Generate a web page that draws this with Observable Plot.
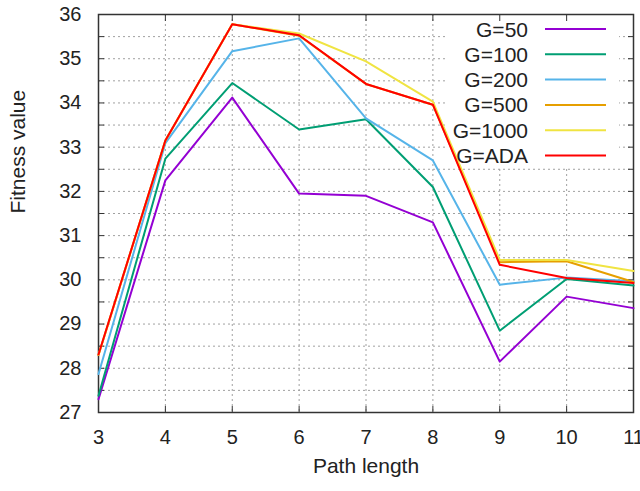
<!DOCTYPE html>
<html><head><meta charset="utf-8">
<script src="https://cdn.jsdelivr.net/npm/d3@7"></script>
<script src="https://cdn.jsdelivr.net/npm/@observablehq/plot@0.6"></script>
<style>body{margin:0;background:#fff}</style>
</head><body><div id="chart"></div>
<script>
const pathLength = [3, 4, 5, 6, 7, 8, 9, 10, 11];
const seriesNames = ["G=50", "G=100", "G=200", "G=500", "G=1000", "G=ADA"];
const seriesColors = ["#9400d3", "#009e73", "#56b4e9", "#e69f00", "#f0e442", "#ff0000"];
const g50   = [27.30, 32.25, 34.12, 31.95, 31.90, 31.30, 28.15, 29.62, 29.36];
const g100  = [27.38, 32.74, 34.45, 33.40, 33.63, 32.10, 28.85, 30.02, 29.87];
const g200  = [27.87, 33.09, 35.17, 35.46, 33.65, 32.70, 29.89, 30.05, 29.97];
const g500  = [28.30, 33.15, 35.78, 35.52, 34.43, 33.96, 30.40, 30.42, 29.95];
const g1000 = [28.30, 33.15, 35.78, 35.57, 34.94, 34.03, 30.45, 30.45, 30.20];
const gADA  = [28.31, 33.15, 35.78, 35.53, 34.43, 33.96, 30.34, 30.04, 29.93];
const xTicks = [3, 4, 5, 6, 7, 8, 9, 10, 11];
const yTicks = [27, 28, 29, 30, 31, 32, 33, 34, 35, 36];
const yMinorTicks = [27, 27.5, 28, 28.5, 29, 29.5, 30, 30.5, 31, 31.5, 32, 32.5, 33, 33.5, 34, 34.5, 35, 35.5, 36];
const xLabel = "Path length";
const yLabel = "Fitness value";

const seriesValues = [g50, g100, g200, g500, g1000, gADA];
const data = seriesNames.flatMap((name, i) =>
  pathLength.map((x, j) => ({series: name, x, y: seriesValues[i][j]})));

const FONT = "'Liberation Sans', Arial, sans-serif";
const gridStyle = {stroke: "#a0a0a0", strokeOpacity: 1, strokeDasharray: "2,3", strokeWidth: 1};

function legendBox(index, scales, values, dims) {
  const g = d3.create("svg:g");
  g.append("rect").attr("x", 448).attr("y", dims.marginTop + 1).attr("width", 171).attr("height", 152).attr("fill", "#fff");
  return g.node();
}
function legendItems(index, scales, values, dims) {
  const g = d3.create("svg:g").attr("font-family", FONT).attr("font-size", 21);
  seriesNames.forEach((name, i) => {
    const y = 29 + i * 25.3;
    g.append("text").attr("x", 528).attr("y", y).attr("dy", "0.36em").attr("text-anchor", "end").attr("fill", "#222").text(name);
    g.append("line").attr("x1", 545).attr("x2", 606).attr("y1", y).attr("y2", y)
      .attr("stroke", seriesColors[i]).attr("stroke-width", 2);
  });
  return g.node();
}

const chart = Plot.plot({
  width: 640, height: 491,
  marginLeft: 98, marginRight: 7, marginTop: 14, marginBottom: 79,
  style: {fontFamily: FONT, background: "#fff", color: "#222"},
  x: {domain: [3, 11]},
  y: {domain: [27, 36]},
  color: {domain: seriesNames, range: seriesColors},
  marks: [
    Plot.gridX(xTicks, gridStyle),
    Plot.gridY(yMinorTicks, gridStyle),
    legendBox,
    Plot.axisX(xTicks, {tickSize: -6, text: null, label: null, stroke: "#333"}),
    Plot.axisX(xTicks, {anchor: "top", tickSize: -6, text: null, label: null, stroke: "#333"}),
    Plot.axisY(yMinorTicks, {tickSize: -6, text: null, label: null, stroke: "#333"}),
    Plot.axisY(yMinorTicks, {anchor: "right", tickSize: -6, text: null, label: null, stroke: "#333"}),
    Plot.axisX(xTicks, {tickSize: 0, tickPadding: 17, fontSize: 20, label: null, fill: "#222"}),
    Plot.axisY(yTicks, {tickSize: 0, tickPadding: 17, fontSize: 20, label: null, fill: "#222"}),
    Plot.frame({stroke: "#333", strokeWidth: 1.5}),
    Plot.line(data, {x: "x", y: "y", z: "series", stroke: "series", strokeWidth: 2}),
    legendItems,
    Plot.text([xLabel], {text: d => d, frameAnchor: "bottom", dy: 60, fontSize: 21, fill: "#222"}),
    Plot.text([yLabel], {text: d => d, frameAnchor: "left", dx: -80, rotate: -90, fontSize: 21, fill: "#222"})
  ]
});
document.getElementById("chart").appendChild(chart);
</script>
</body></html>
